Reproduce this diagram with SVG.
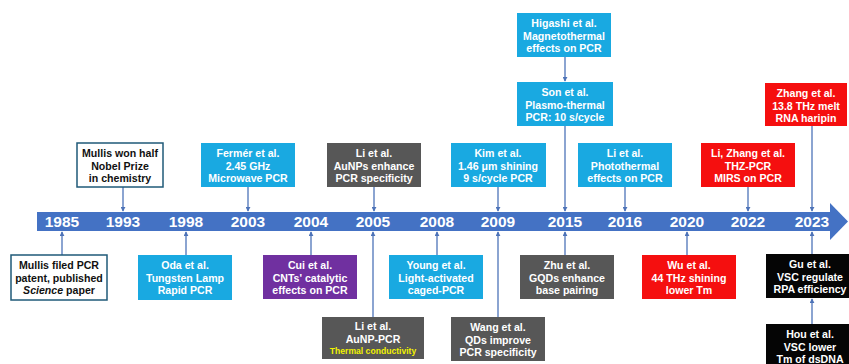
<svg xmlns="http://www.w3.org/2000/svg" width="849" height="364" viewBox="0 0 849 364">
<defs>
<style>
.t{font-family:"Liberation Sans",Arial,sans-serif;font-weight:bold;font-size:10.6px;text-anchor:middle}
.w{fill:#fff}.k{fill:#111}
.yr{font-family:"Liberation Sans",Arial,sans-serif;font-weight:bold;font-size:15.5px;fill:#fff;text-anchor:middle}
.cy{fill:#19a9e1}.gy{fill:#575757}.pu{fill:#7030a0}.rd{fill:#f50f0f}.bk{fill:#050505}
.wb{fill:#fff;stroke:#1f5a78;stroke-width:1.5}
.c{stroke:#4d73b8;stroke-width:1.3;fill:none;marker-end:url(#a)}
</style>
<marker id="a" viewBox="0 0 6 6" refX="5" refY="3" markerWidth="5" markerHeight="5" orient="auto" markerUnits="userSpaceOnUse">
<path d="M0,0 L6,3 L0,6 z" fill="#4d73b8"/>
</marker>
</defs>
<rect width="849" height="364" fill="#fff"/>
<g id="timeline">
<rect x="37" y="212" width="794" height="19" fill="#4472c4"/>
<polygon points="830,203 848,221.5 830,240" fill="#4472c4"/>
<text class="yr" x="62" y="227">1985</text>
<text class="yr" x="123" y="227">1993</text>
<text class="yr" x="186" y="227">1998</text>
<text class="yr" x="248" y="227">2003</text>
<text class="yr" x="311" y="227">2004</text>
<text class="yr" x="373" y="227">2005</text>
<text class="yr" x="437" y="227">2008</text>
<text class="yr" x="498" y="227">2009</text>
<text class="yr" x="565" y="227">2015</text>
<text class="yr" x="625" y="227">2016</text>
<text class="yr" x="687" y="227">2020</text>
<text class="yr" x="748" y="227">2022</text>
<text class="yr" x="812" y="227">2023</text>
</g>
<g id="connectors">
<path class="c" d="M123,187 V211"/>
<path class="c" d="M248,187 V211"/>
<path class="c" d="M374,187 V211"/>
<path class="c" d="M498,187 V211"/>
<path class="c" d="M565,57 V81"/>
<path class="c" d="M565,126 V211"/>
<path class="c" d="M625,187 V211"/>
<path class="c" d="M748,187 V211"/>
<path class="c" d="M812,126 V211"/>
<path class="c" d="M62,255 V232"/>
<path class="c" d="M186,255 V232"/>
<path class="c" d="M311,255 V232"/>
<path class="c" d="M437,255 V232"/>
<path class="c" d="M373,317 V232"/>
<path class="c" d="M498,317 V232"/>
<path class="c" d="M565,255 V232"/>
<path class="c" d="M687,255 V232"/>
<path class="c" d="M812,254 V232"/>
<path class="c" d="M812,324 V299"/>
</g>
<g id="n-mullis-nobel">
<rect class="wb" x="77" y="143" width="86" height="44"/>
<text class="t k" x="120" y="157">Mullis won half</text>
<text class="t k" x="120" y="169.5">Nobel Prize</text>
<text class="t k" x="120" y="182">in chemistry</text>
</g>
<g id="n-fermer">
<rect class="cy" x="201" y="143" width="94" height="44"/>
<text class="t w" x="248" y="157">Fermér et al.</text>
<text class="t w" x="248" y="169.5">2.45 GHz</text>
<text class="t w" x="248" y="182">Microwave PCR</text>
</g>
<g id="n-li-aunps">
<rect class="gy" x="327" y="143" width="94" height="44"/>
<text class="t w" x="374" y="157">Li et al.</text>
<text class="t w" x="374" y="169.5">AuNPs enhance</text>
<text class="t w" x="374" y="182">PCR specificity</text>
</g>
<g id="n-kim">
<rect class="cy" x="451" y="143" width="95" height="44"/>
<text class="t w" x="498" y="157">Kim et al.</text>
<text class="t w" x="498" y="169.5">1.46 μm shining</text>
<text class="t w" x="498" y="182">9 s/cycle PCR</text>
</g>
<g id="n-higashi">
<rect class="cy" x="517" y="13" width="94" height="44"/>
<text class="t w" x="564" y="27">Higashi et al.</text>
<text class="t w" x="564" y="39.5">Magnetothermal</text>
<text class="t w" x="564" y="52">effects on PCR</text>
</g>
<g id="n-son">
<rect class="cy" x="517" y="82" width="96" height="44"/>
<text class="t w" x="565" y="96">Son et al.</text>
<text class="t w" x="565" y="108.5">Plasmo-thermal</text>
<text class="t w" x="565" y="121">PCR: 10 s/cycle</text>
</g>
<g id="n-li-photothermal">
<rect class="cy" x="578" y="143" width="94" height="44"/>
<text class="t w" x="625" y="157">Li et al.</text>
<text class="t w" x="625" y="169.5">Photothermal</text>
<text class="t w" x="625" y="182">effects on PCR</text>
</g>
<g id="n-li-zhang">
<rect class="rd" x="701" y="143" width="94" height="44"/>
<text class="t w" x="748" y="157">Li, Zhang et al.</text>
<text class="t w" x="748" y="169.5">THZ-PCR</text>
<text class="t w" x="748" y="182">MIRS on PCR</text>
</g>
<g id="n-zhang">
<rect class="rd" x="765" y="83" width="82" height="43"/>
<text class="t w" x="806" y="97">Zhang et al.</text>
<text class="t w" x="806" y="109.5">13.8 THz melt</text>
<text class="t w" x="806" y="122">RNA haripin</text>
</g>
<g id="n-mullis-patent">
<rect class="wb" x="11" y="255" width="96" height="45"/>
<text class="t k" x="59" y="269">Mullis filed PCR</text>
<text class="t k" x="59" y="281.5">patent, published</text>
<text class="t k" x="59" y="294"><tspan font-style="italic">Science</tspan> paper</text>
</g>
<g id="n-oda">
<rect class="cy" x="138" y="255" width="94" height="45"/>
<text class="t w" x="185" y="269">Oda et al.</text>
<text class="t w" x="185" y="281.5">Tungsten Lamp</text>
<text class="t w" x="185" y="294">Rapid PCR</text>
</g>
<g id="n-cui">
<rect class="pu" x="263" y="255" width="94" height="44"/>
<text class="t w" x="310" y="269">Cui et al.</text>
<text class="t w" x="310" y="281.5">CNTs' catalytic</text>
<text class="t w" x="310" y="294">effects on PCR</text>
</g>
<g id="n-young">
<rect class="cy" x="389" y="255" width="94" height="44"/>
<text class="t w" x="436" y="269">Young et al.</text>
<text class="t w" x="436" y="281.5">Light-activated</text>
<text class="t w" x="436" y="294">caged-PCR</text>
</g>
<g id="n-zhu">
<rect class="gy" x="520" y="255" width="94" height="44"/>
<text class="t w" x="567" y="269">Zhu et al.</text>
<text class="t w" x="567" y="281.5">GQDs enhance</text>
<text class="t w" x="567" y="294">base pairing</text>
</g>
<g id="n-wu">
<rect class="rd" x="642" y="255" width="94" height="44"/>
<text class="t w" x="689" y="269">Wu et al.</text>
<text class="t w" x="689" y="281.5">44 THz shining</text>
<text class="t w" x="689" y="294">lower Tm</text>
</g>
<g id="n-gu">
<rect class="bk" x="766" y="254" width="83" height="44"/>
<text class="t w" x="810" y="268">Gu et al.</text>
<text class="t w" x="810" y="280.5">VSC regulate</text>
<text class="t w" x="810" y="293">RPA efficiency</text>
</g>
<g id="n-li-aunp-pcr">
<rect class="gy" x="322" y="317" width="102" height="42"/>
<text class="t w" x="373" y="330">Li et al.</text>
<text class="t w" x="373" y="342.5">AuNP-PCR</text>
<text class="t" x="373" y="354" style="fill:#f2f200;font-size:8.6px">Thermal conductivity</text>
</g>
<g id="n-wang">
<rect class="gy" x="451" y="317" width="94" height="44"/>
<text class="t w" x="498" y="331">Wang et al.</text>
<text class="t w" x="498" y="343.5">QDs improve</text>
<text class="t w" x="498" y="356">PCR specificity</text>
</g>
<g id="n-hou">
<rect class="bk" x="766" y="324" width="83" height="40"/>
<text class="t w" x="810" y="338">Hou et al.</text>
<text class="t w" x="810" y="350.5">VSC lower</text>
<text class="t w" x="810" y="363">Tm of dsDNA</text>
</g>
</svg>
